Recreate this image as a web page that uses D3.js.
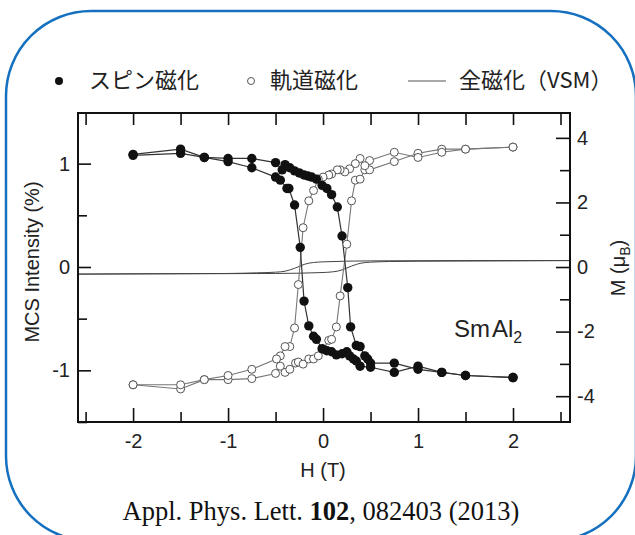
<!DOCTYPE html>
<html><head><meta charset="utf-8">
<script src="https://cdn.jsdelivr.net/npm/d3@7"></script>
<style>
body{margin:0;background:#fff;}
svg{display:block;}
</style></head>
<body>
<svg id="chart" width="635" height="535"></svg>
<script>
// ---- data ----
// spin magnetization (filled), field increasing
const spinUpH = [-2.0,-1.5,-1.25,-1.0,-0.75,-0.5,-0.43,-0.40,-0.35,-0.30,-0.25,-0.20,-0.16,-0.12,-0.07,-0.01,0.04,0.09,0.15,0.20,0.26,0.29,0.35,0.39,0.44,0.47,0.50,0.75,1.0,1.25,1.5,2.0];
const spinUpI = [1.09,1.14,1.06,1.05,1.05,1.01,0.94,0.99,0.96,0.93,0.91,0.89,0.88,0.87,0.85,0.79,0.76,0.70,0.58,0.30,-0.20,-0.58,-0.76,-0.77,-0.86,-0.89,-0.93,-0.93,-0.99,-1.02,-1.05,-1.07];
// spin magnetization (filled), field decreasing
const spinDnH = [2.0,1.5,1.25,1.0,0.75,0.50,0.39,0.35,0.32,0.28,0.25,0.20,0.14,0.09,0.04,-0.01,-0.07,-0.10,-0.15,-0.20,-0.24,-0.30,-0.36,-0.38,-0.45,-0.5,-0.75,-1.0,-1.25,-1.5,-2.0];
const spinDnI = [-1.07,-1.05,-1.02,-0.96,-1.02,-0.97,-0.96,-0.91,-0.89,-0.86,-0.82,-0.84,-0.85,-0.82,-0.81,-0.79,-0.70,-0.67,-0.57,-0.33,0.19,0.60,0.76,0.76,0.84,0.87,0.96,1.02,1.06,1.10,1.08];
// orbital magnetization (open), field increasing
const orbUpH = [-2.0,-1.5,-1.25,-1.0,-0.75,-0.5,-0.45,-0.40,-0.35,-0.29,-0.26,-0.21,-0.15,-0.10,-0.05,0.0,0.06,0.09,0.14,0.18,0.25,0.30,0.34,0.39,0.44,0.49,0.75,1.0,1.25,1.5,2.0];
const orbUpI = [-1.14,-1.18,-1.09,-1.09,-1.08,-1.03,-0.96,-1.02,-0.99,-0.93,-0.92,-0.94,-0.89,-0.89,-0.86,-0.80,-0.71,-0.70,-0.58,-0.28,0.22,0.64,0.84,0.85,0.94,0.94,1.02,1.10,1.14,1.14,1.16];
// orbital magnetization (open), field decreasing
const orbDnH = [2.0,1.5,1.25,1.0,0.75,0.49,0.44,0.39,0.34,0.28,0.23,0.18,0.15,0.09,0.06,0.0,-0.05,-0.10,-0.15,-0.21,-0.26,-0.30,-0.35,-0.40,-0.45,-0.49,-0.75,-1.0,-1.25,-1.5,-2.0];
const orbDnI = [1.16,1.14,1.11,1.06,1.11,1.03,0.98,1.05,1.00,0.95,0.92,0.94,0.94,0.90,0.89,0.87,0.85,0.74,0.64,0.38,-0.17,-0.59,-0.77,-0.77,-0.86,-0.89,-0.99,-1.05,-1.09,-1.14,-1.14];
// total magnetization (VSM), right axis
const vsmUpH = [-2.6,-1.5,-0.5,0.0,0.1,0.15,0.2,0.25,0.3,0.35,0.4,0.5,0.7,1.0,2.0,2.6];
const vsmUpM = [-0.22,-0.21,-0.2,-0.17,-0.15,-0.13,-0.09,-0.03,0.03,0.08,0.12,0.15,0.17,0.18,0.19,0.2];
const vsmDnH = [2.6,1.5,0.5,0.0,-0.1,-0.15,-0.2,-0.25,-0.3,-0.35,-0.4,-0.5,-0.7,-1.0,-2.0,-2.6];
const vsmDnM = [0.2,0.2,0.19,0.16,0.14,0.12,0.08,0.02,-0.04,-0.09,-0.13,-0.16,-0.18,-0.2,-0.21,-0.22];
// ticks
const xMajor = [-2,-1,0,1,2];
const xMinor = [-2.5,-1.5,-0.5,0.5,1.5,2.5];
const yLMajor = [-1,0,1];
const yLMinor = [-1.5,-0.5,0.5];
const yRMajor = [-4,-2,0,2,4];
const yRMinor = [-3,-1,1,3];
const legendLabels = ["スピン磁化","軌道磁化","全磁化（VSM）"];

// ---- drawing ----
const svg = d3.select('#chart');
svg.append('rect').attr('x',6).attr('y',11).attr('width',630).attr('height',530)
  .attr('rx',85).attr('fill','none').attr('stroke','#1570c0').attr('stroke-width',2.5);

const L=78,R=570,T=113,B=422;
const x = d3.scaleLinear().domain([-2.58,2.6]).range([L,R]);
const yL = d3.scaleLinear().domain([-1.5,1.49]).range([B,T]);
const yR = d3.scaleLinear().domain([-4.80,4.77]).range([B,T]);

const sans = '"Liberation Sans", Arial, Helvetica, sans-serif';
const fmt = d => String(d);
function clean(g){
  g.select('.domain').remove();
  g.selectAll('.tick line').attr('stroke','#111').attr('stroke-width',1.6);
  g.selectAll('.tick text').attr('fill','#222').style('font-family',sans).style('font-size','20px');
}
svg.append('g').attr('transform',`translate(0,${B})`)
  .call(d3.axisBottom(x).tickValues(xMajor).tickSize(-14).tickPadding(12).tickFormat(fmt)).call(clean);
svg.append('g').attr('transform',`translate(0,${B})`)
  .call(d3.axisBottom(x).tickValues(xMinor).tickSize(-10).tickFormat('')).call(clean);
svg.append('g').attr('transform',`translate(0,${T})`)
  .call(d3.axisTop(x).tickValues(xMajor.concat(xMinor)).tickSize(-12).tickFormat('')).call(clean);
svg.append('g').attr('transform',`translate(${L},0)`)
  .call(d3.axisLeft(yL).tickValues(yLMajor).tickSize(-13).tickPadding(8).tickFormat(fmt)).call(clean);
svg.append('g').attr('transform',`translate(${L},0)`)
  .call(d3.axisLeft(yL).tickValues(yLMinor).tickSize(-9).tickFormat('')).call(clean);
svg.append('g').attr('transform',`translate(${R},0)`)
  .call(d3.axisRight(yR).tickValues(yRMajor).tickSize(-14).tickPadding(7).tickFormat(fmt)).call(clean);
svg.append('g').attr('transform',`translate(${R},0)`)
  .call(d3.axisRight(yR).tickValues(yRMinor).tickSize(-10).tickFormat('')).call(clean);

// axis titles
svg.append('text').attr('transform','translate(39,262) rotate(-90)').attr('text-anchor','middle')
  .style('font-family',sans).style('font-size','20px').attr('fill','#222').text('MCS Intensity (%)');
const rt = svg.append('text').attr('transform','translate(625,268) rotate(-90)').attr('text-anchor','middle')
  .style('font-family',sans).style('font-size','20px').attr('fill','#222');
rt.append('tspan').text('M (μ');
rt.append('tspan').attr('dy',5).style('font-size','14px').text('B');
rt.append('tspan').attr('dy',-5).text(')');
svg.append('text').attr('x',323).attr('y',477).attr('text-anchor','middle')
  .style('font-family',sans).style('font-size','20px').attr('fill','#222').text('H (T)');

// plot contents (clipped)
svg.append('clipPath').attr('id','clip').append('rect').attr('x',L).attr('y',T).attr('width',R-L).attr('height',B-T);
const plot = svg.append('g').attr('clip-path','url(#clip)');
const zip = (a,b) => a.map((v,i)=>[v,b[i]]);
const lineL = d3.line().x(d=>x(d[0])).y(d=>yL(d[1]));
const lineR = d3.line().x(d=>x(d[0])).y(d=>yR(d[1])).curve(d3.curveMonotoneX);
const vsmUp = zip(vsmUpH,vsmUpM), vsmDn = zip(vsmDnH,vsmDnM);
[vsmUp, vsmDn.slice().reverse()].forEach(d=>plot.append('path').attr('d',lineR(d))
  .attr('fill','none').attr('stroke','#444').attr('stroke-width',1));
const orbUp = zip(orbUpH,orbUpI), orbDn = zip(orbDnH,orbDnI);
const spinUp = zip(spinUpH,spinUpI), spinDn = zip(spinDnH,spinDnI);
[orbUp,orbDn].forEach(d=>plot.append('path').attr('d',lineL(d)).attr('fill','none').attr('stroke','#777').attr('stroke-width',1.1));
[spinUp,spinDn].forEach(d=>plot.append('path').attr('d',lineL(d)).attr('fill','none').attr('stroke','#333').attr('stroke-width',1.2));
plot.selectAll('circle.orb').data(orbUp.concat(orbDn)).join('circle').attr('class','orb')
  .attr('cx',d=>x(d[0])).attr('cy',d=>yL(d[1])).attr('r',4)
  .attr('fill','#fff').attr('stroke','#555').attr('stroke-width',1);
plot.selectAll('circle.spin').data(spinUp.concat(spinDn)).join('circle').attr('class','spin')
  .attr('cx',d=>x(d[0])).attr('cy',d=>yL(d[1])).attr('r',4.7).attr('fill','#111');

// frame
svg.append('rect').attr('x',L).attr('y',T).attr('width',R-L).attr('height',B-T)
  .attr('fill','none').attr('stroke','#111').attr('stroke-width',2);

// SmAl2 label
const sm = svg.append('text').attr('x',454).attr('y',337).style('font-family',sans).style('font-size','24px').attr('fill','#222');
sm.append('tspan').text('Sm');
sm.append('tspan').attr('dx',2).text('Al');
sm.append('tspan').attr('dy',6).style('font-size','16px').text('2');

// legend
const cjk = '"Noto Sans CJK JP", "Noto Sans CJK SC", sans-serif';
svg.append('circle').attr('cx',59).attr('cy',81).attr('r',4).attr('fill','#111');
svg.append('circle').attr('cx',251).attr('cy',81).attr('r',3.5).attr('fill','#fff').attr('stroke','#555').attr('stroke-width',1);
svg.append('line').attr('x1',408).attr('x2',446).attr('y1',81).attr('y2',81).attr('stroke','#555').attr('stroke-width',1.2);
const lx = [89,270,459];
legendLabels.forEach((t,i)=>svg.append('text').attr('x',lx[i]).attr('y',88)
  .style('font-family',cjk).style('font-size','22px').attr('fill','#222').text(t));

// caption
const cap = svg.append('text').attr('x',321).attr('y',520).attr('text-anchor','middle')
  .style('font-family','"Liberation Serif", "Times New Roman", serif').style('font-size','26.5px').attr('fill','#111');
cap.append('tspan').text('Appl. Phys. Lett. ');
cap.append('tspan').style('font-weight','bold').text('102');
cap.append('tspan').text(', 082403 (2013)');
</script>
</body></html>
